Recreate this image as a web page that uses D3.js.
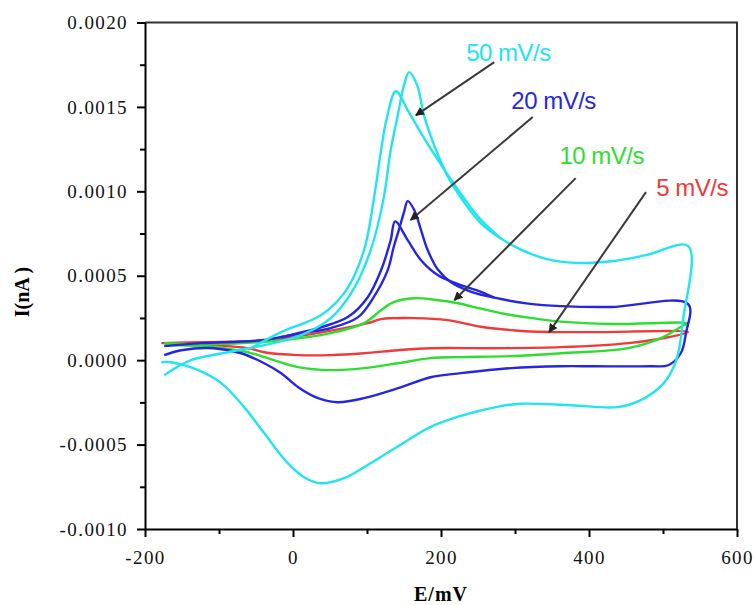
<!DOCTYPE html>
<html>
<head>
<meta charset="utf-8">
<script src="https://cdn.jsdelivr.net/npm/d3@7"></script>
<style>
  body { margin: 0; background: #fff; }
  svg { display: block; }
</style>
</head>
<body>
<svg id="chart" width="756" height="605"></svg>
<script>
// E (mV), I
var cv50a = [[-174,-0.000089],[-138,0.0],[-88,0.000047],[-26,0.000101],[11,0.000148],[51,0.000249],
  [81,0.000415],[105,0.000652],[122,0.000948],[132,0.001244],[141,0.001439],[150,0.001629],[157,0.001706],
  [168,0.001625],[177,0.00145],[191,0.00127],[209,0.00109],[232,0.00093],[254,0.00081],[281,0.00072],
  [308,0.000655],[342,0.0006],[382,0.000576],[430,0.000586],[477,0.000622],[534,0.000675],
  [527,0.000237],[518,0.0],[501,-0.000136],[470,-0.000237],[439,-0.000278],[376,-0.000267],[308,-0.000258],
  [281,-0.000272],[254,-0.000298],[227,-0.00033],[186,-0.000395],[142,-0.00051],[96,-0.000634],[69,-0.000699],
  [38,-0.000729],[15,-0.000693],[-7,-0.00061],[-39,-0.000432],[-66,-0.000278],[-97,-0.000136],
  [-128,-0.000059],[-165,-0.000012],[-178,-0.000012]];
var cv50b = [[-57,0.000071],[-16,0.000166],[38,0.000267],[72,0.000415],[96,0.000652],[109,0.000948],
  [119,0.001244],[127,0.001439],[139,0.001593],[155,0.001481],[173,0.001345],[196,0.001185],[223,0.00101],
  [250,0.00085],[281,0.00072]];

var cv20a = [[-174,0.000083],[-124,0.000101],[-43,0.000118],[11,0.00016],[51,0.00019],[88,0.000255],
  [109,0.000373],[128,0.000533],[136,0.000669],[143,0.00077],[150,0.000877],[155,0.000942],[164,0.000888],
  [173,0.00077],[182,0.000652],[196,0.000535],[214,0.00046],[241,0.000405],[272,0.00037],[318,0.000335],
  [362,0.00032],[430,0.000315],[534,0.000332],
  [531,0.00016],[524,0.000041],[507,-0.00003],[484,-0.000036],[407,-0.000036],[362,-0.000036],
  [295,-0.000047],[227,-0.000077],[186,-0.000101],[142,-0.000166],[96,-0.000225],[61,-0.000249],
  [34,-0.000225],[7,-0.00016],[-16,-0.000077],[-39,-0.000018],[-70,0.000041],[-107,0.000071],
  [-151,0.000059],[-174,0.00003]];
var cv20b = [[-16,0.000136],[38,0.000195],[74,0.000255],[101,0.000373],[119,0.000533],[132,0.000711],
  [138,0.000822],[155,0.000711],[173,0.000592],[196,0.000503],[227,0.000444],[254,0.000405],[272,0.00037]];

var cv10 = [[-174,0.000101],[-107,0.000095],[-16,0.000118],[51,0.00016],[96,0.000219],[119,0.000296],
  [136,0.000344],[164,0.000367],[191,0.000358],[223,0.000337],[254,0.000305],[285,0.000275],[318,0.000252],
  [362,0.000228],[430,0.000214],[534,0.000219],
  [528,0.000207],[497,0.00013],[453,0.000071],[362,0.000041],[295,0.000024],[227,0.000018],[186,0.000012],
  [142,-0.000018],[96,-0.000047],[51,-0.000059],[7,-0.000041],[-26,0.0],[-61,0.000047],[-107,0.000077],
  [-174,0.000089]];

var cv5 = [[-178,0.000101],[-124,0.000107],[-34,0.000118],[55,0.000178],[101,0.000219],[119,0.000243],
  [164,0.000249],[209,0.000237],[254,0.000198],[300,0.000176],[345,0.000167],[407,0.000166],[534,0.000166],
  [507,0.000136],[453,0.000101],[362,0.000077],[272,0.000071],[186,0.000071],[142,0.000059],[96,0.000041],
  [51,0.00003],[7,0.00003],[-39,0.000047],[-61,0.000071],[-107,0.000089],[-174,0.000101]];

var rateLabels = ["50 mV/s", "20 mV/s", "10 mV/s", "5 mV/s"];
var rateColors = ["#22e4ee", "#2626e0", "#2ede2e", "#f03a3a"];
// label anchor and arrow (from -> to) in data units
var labelPos = [[234,0.00177],[295,0.00149],[360,0.00116],[491,0.00097]];
var arrowFrom = [[272,0.001765],[324,0.00144],[382,0.001078],[477,0.000995]];
var arrowTo = [[166,0.00145],[159,0.00083],[218,0.000355],[346,0.000166]];

var xTicks = [-200, 0, 200, 400, 600];
var xMinor = [-100, 100, 300, 500];
var yTicks = [-0.001, -0.0005, 0, 0.0005, 0.001, 0.0015, 0.002];
var yMinor = [-0.00075, -0.00025, 0.00025, 0.00075, 0.00125, 0.00175];

var svg = d3.select("#chart");
var margin = {top: 22.5, right: 19, bottom: 76, left: 145};
var width = 756 - margin.left - margin.right;
var height = 605 - margin.top - margin.bottom;

var panel = svg.append("g")
    .attr("transform", "translate(" + margin.left + "," + margin.top + ")");

var xScale = d3.scaleLinear().domain([-200, 600]).range([0, width]);
var yScale = d3.scaleLinear().domain([-0.001, 0.002]).range([height, 0]);

// frame (top/right)
panel.append("path")
    .attr("d", "M0,0H" + width + "V" + height)
    .attr("fill", "none")
    .attr("stroke", "#333")
    .attr("stroke-width", 2);

// curves
var line = d3.line()
    .x(function (d) { return xScale(d[0]); })
    .y(function (d) { return yScale(d[1]); })
    .curve(d3.curveCatmullRom.alpha(0.5));

var series = [[cv5, 3], [cv10, 2], [cv20a, 1], [cv20b, 1], [cv50a, 0], [cv50b, 0]];
series.forEach(function (s) {
    panel.append("path")
        .datum(s[0])
        .attr("d", line)
        .attr("fill", "none")
        .attr("stroke", rateColors[s[1]])
        .attr("stroke-width", 2.4)
        .attr("stroke-linejoin", "round");
});

// axes
var fontSerif = "'Liberation Serif', 'Times New Roman', serif";

var xAxis = d3.axisBottom(xScale).tickValues(xTicks).tickSize(8).tickSizeOuter(0).tickPadding(14)
    .tickFormat(function (d) { return String(d); });
panel.append("g").attr("transform", "translate(0," + height + ")").call(xAxis);
panel.append("g").attr("transform", "translate(0," + height + ")")
    .call(d3.axisBottom(xScale).tickValues(xMinor).tickSize(5).tickSizeOuter(0).tickFormat(""))
    .select(".domain").remove();

var yAxis = d3.axisLeft(yScale).tickValues(yTicks).tickSize(8).tickSizeOuter(0).tickPadding(9)
    .tickFormat(function (d) { return d.toFixed(4); });
panel.append("g").call(yAxis);
panel.append("g")
    .call(d3.axisLeft(yScale).tickValues(yMinor).tickSize(5).tickSizeOuter(0).tickFormat(""))
    .select(".domain").remove();

panel.selectAll(".domain, .tick line").attr("stroke", "#000").attr("stroke-width", 2);
panel.selectAll(".tick text")
    .style("font-family", fontSerif)
    .style("font-size", "19px")
    .style("letter-spacing", "1.4px")
    .attr("fill", "#111");

// axis titles
svg.append("text")
    .attr("transform", "translate(29,292) rotate(-90)")
    .attr("text-anchor", "middle")
    .style("font-family", fontSerif)
    .style("font-size", "20px")
    .style("font-weight", "bold")
    .text("I(nA )");

svg.append("text")
    .attr("x", margin.left + xScale(200))
    .attr("y", 601)
    .attr("text-anchor", "middle")
    .style("font-family", fontSerif)
    .style("font-size", "20px")
    .style("font-weight", "bold")
    .style("letter-spacing", "1px")
    .text("E/mV");

// arrows + labels
svg.append("defs").append("marker")
    .attr("id", "head")
    .attr("viewBox", "0 0 10 10")
    .attr("refX", 9).attr("refY", 5)
    .attr("markerWidth", 4.5).attr("markerHeight", 4.5)
    .attr("orient", "auto")
    .append("path")
    .attr("d", "M0,0L10,5L0,10z")
    .attr("fill", "#222");

for (var i = 0; i < 4; i++) {
    panel.append("line")
        .attr("x1", xScale(arrowFrom[i][0])).attr("y1", yScale(arrowFrom[i][1]))
        .attr("x2", xScale(arrowTo[i][0])).attr("y2", yScale(arrowTo[i][1]))
        .attr("stroke", "#3a3a3a")
        .attr("stroke-width", 2)
        .attr("marker-end", "url(#head)");

    panel.append("text")
        .attr("x", xScale(labelPos[i][0]))
        .attr("y", yScale(labelPos[i][1]))
        .style("font-family", "'Liberation Sans', Arial, sans-serif")
        .style("font-size", "24px")
        .style("letter-spacing", "-0.5px")
        .attr("fill", rateColors[i])
        .text(rateLabels[i]);
}
</script>
</body>
</html>
